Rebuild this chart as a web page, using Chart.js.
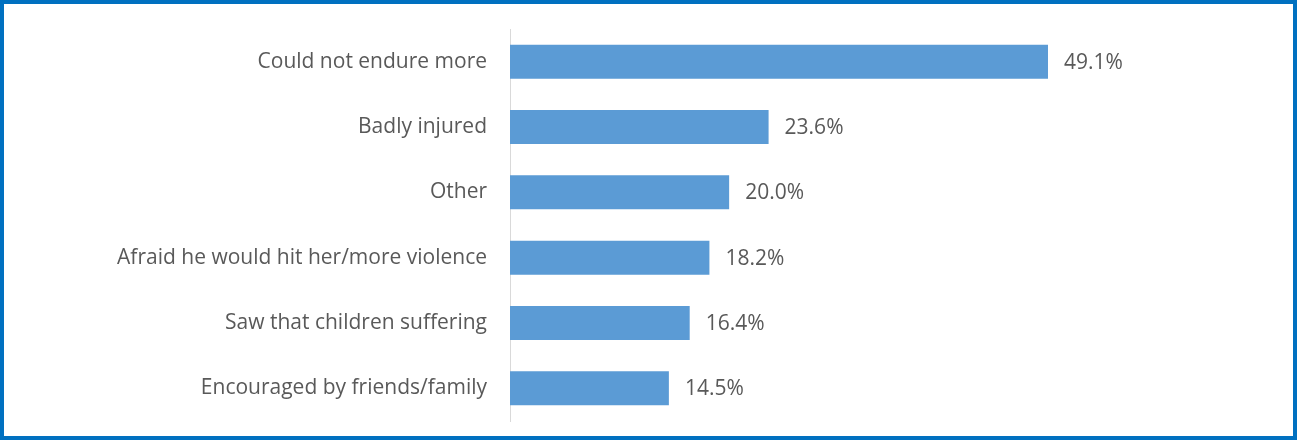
<!DOCTYPE html>
<html>
<head>
    <title>Reasons for leaving</title>
    <script src="https://cdn.jsdelivr.net/npm/chart.js"></script>
    <style>
        body {
            margin: 0;
            background-color: #ffffff;
        }
        #frame {
            width: 1297px;
            height: 440px;
            box-sizing: border-box;
            border: 4px solid #0070c0;
        }
        canvas {
            display: block;
        }
    </style>
</head>
<body>
    <div id="frame">
        <canvas id="reasonsChart" width="1289" height="432"></canvas>
    </div>

    <script>
        // Powody odejścia (procent odpowiedzi)
        const categories = [
            "Could not endure more",
            "Badly injured",
            "Other",
            "Afraid he would hit her/more violence",
            "Saw that children suffering",
            "Encouraged by friends/family"
        ];
        const values = [49.1, 23.6, 20.0, 18.2, 16.4, 14.5];
        const valueLabels = ["49.1%", "23.6%", "20.0%", "18.2%", "16.4%", "14.5%"];

        const fontFamily = "'Open Sans', sans-serif";
        const fontSize = 21;
        const textColor = '#595959';

        // Etykiety wartości przy końcu słupków
        const barLabels = {
            id: 'barLabels',
            afterDatasetsDraw(chart) {
                const ctx = chart.ctx;
                const meta = chart.getDatasetMeta(0);
                ctx.save();
                ctx.font = fontSize + 'px ' + fontFamily;
                ctx.fillStyle = textColor;
                ctx.textAlign = 'left';
                ctx.textBaseline = 'middle';
                meta.data.forEach((bar, i) => {
                    ctx.fillText(valueLabels[i], bar.x + 16, bar.y + 1);
                });
                ctx.restore();
            }
        };

        const ctx = document.getElementById('reasonsChart').getContext('2d');
        const chart = new Chart(ctx, {
            type: 'bar',
            data: {
                labels: categories,
                datasets: [{
                    data: values,
                    backgroundColor: '#5b9bd5',
                    borderColor: '#5b9bd5',
                    borderWidth: 0,
                    categoryPercentage: 1.0,
                    barPercentage: 0.52
                }]
            },
            options: {
                indexAxis: 'y',
                responsive: false,
                animation: false,
                layout: {
                    padding: { top: 25, bottom: 15, left: 0, right: 16 }
                },
                scales: {
                    x: {
                        display: false,
                        min: 0,
                        max: 70
                    },
                    y: {
                        grid: {
                            color: 'rgba(0,0,0,0)',
                            drawTicks: false
                        },
                        border: {
                            display: true,
                            color: '#d9d9d9',
                            width: 1
                        },
                        ticks: {
                            color: textColor,
                            padding: 23,
                            font: { family: fontFamily, size: fontSize }
                        },
                        afterFit(scale) {
                            scale.width = 506;
                            scale.paddingTop = 0;
                            scale.paddingBottom = 0;
                        }
                    }
                },
                plugins: {
                    legend: { display: false },
                    tooltip: { enabled: false }
                }
            },
            plugins: [barLabels]
        });
    </script>
</body>
</html>
